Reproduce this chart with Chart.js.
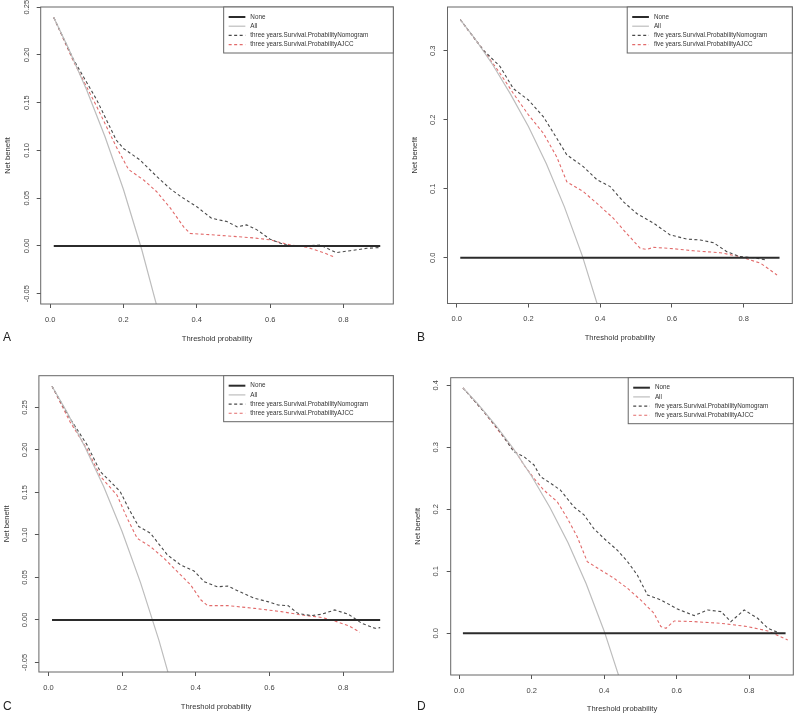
<!DOCTYPE html>
<html>
<head>
<meta charset="utf-8">
<script src="https://cdn.jsdelivr.net/npm/chart.js@4/dist/chart.umd.min.js"></script>
<style>
  body { margin: 0; background: #fff; width: 800px; height: 717px; position: relative; overflow: hidden;
         font-family: "Liberation Sans", Arial, sans-serif; }
  canvas { position: absolute; }
  .tag { position: absolute; font-size: 12px; line-height: 12px; color: #222; }
</style>
</head>
<body>
<canvas id="pa" width="400" height="358" style="left:0;top:0"></canvas>
<canvas id="pb" width="400" height="358" style="left:400px;top:0"></canvas>
<canvas id="pc" width="400" height="359" style="left:0;top:358px"></canvas>
<canvas id="pd" width="400" height="359" style="left:400px;top:358px"></canvas>
<div class="tag" style="left:3px;top:331px">A</div>
<div class="tag" style="left:417px;top:331px">B</div>
<div class="tag" style="left:3px;top:700px">C</div>
<div class="tag" style="left:417px;top:700px">D</div>
<script>
// legend labels
const threeLabels = ['None', 'All', 'three years.Survival.ProbabilityNomogram', 'three years.Survival.ProbabilityAJCC'];
const fiveLabels = ['None', 'All', 'five years.Survival.ProbabilityNomogram', 'five years.Survival.ProbabilityAJCC'];

// [threshold, net benefit]
const noneLine = [[0.01, 0], [0.9, 0]];

const aAll = [[0.01, 0.239], [0.05, 0.207], [0.10, 0.163], [0.15, 0.114], [0.20, 0.059], [0.25, -0.004], [0.30, -0.076]];
const aNomogram = [[0.01, 0.239], [0.064, 0.195], [0.127, 0.153], [0.18, 0.111], [0.2, 0.102], [0.245, 0.09], [0.29, 0.073],
  [0.327, 0.06], [0.355, 0.052], [0.4, 0.041], [0.44, 0.029], [0.482, 0.0255], [0.51, 0.02], [0.536, 0.022], [0.564, 0.0168],
  [0.6, 0.007], [0.636, 0.0017], [0.664, -0.0007], [0.7, 0], [0.736, 0.001], [0.78, -0.007], [0.818, -0.005], [0.864, -0.0025], [0.9, -0.0017]];
const aAJCC = [[0.01, 0.239], [0.064, 0.193], [0.127, 0.146], [0.18, 0.104], [0.214, 0.08], [0.255, 0.069], [0.29, 0.057],
  [0.327, 0.04], [0.364, 0.02], [0.382, 0.013], [0.427, 0.012], [0.482, 0.0105], [0.555, 0.0084], [0.6, 0.0063], [0.655, 0.001],
  [0.7, -0.0014], [0.745, -0.007], [0.777, -0.012]];

const bAll = [[0.01, 0.345], [0.05, 0.318], [0.10, 0.280], [0.15, 0.237], [0.20, 0.190], [0.25, 0.136], [0.30, 0.074], [0.35, 0.003], [0.40, -0.081]];
const bNomogram = [[0.01, 0.345], [0.074, 0.301], [0.121, 0.277], [0.158, 0.245], [0.2, 0.2285], [0.242, 0.204], [0.279, 0.173],
  [0.307, 0.149], [0.353, 0.132], [0.391, 0.113], [0.428, 0.103], [0.465, 0.081], [0.502, 0.064], [0.549, 0.05], [0.595, 0.033],
  [0.642, 0.027], [0.679, 0.0256], [0.716, 0.0217], [0.753, 0.0087], [0.79, 0.0015], [0.828, 0], [0.865, -0.0034]];
const bAJCC = [[0.01, 0.345], [0.074, 0.301], [0.121, 0.267], [0.158, 0.238], [0.2, 0.207], [0.242, 0.18], [0.279, 0.146],
  [0.307, 0.11], [0.353, 0.0957], [0.391, 0.0787], [0.437, 0.057], [0.474, 0.035], [0.512, 0.0135], [0.53, 0.012], [0.549, 0.015],
  [0.605, 0.013], [0.66, 0.01], [0.735, 0.0072], [0.79, 0.0015], [0.847, -0.008], [0.893, -0.025]];

const cAll = [[0.01, 0.275], [0.05, 0.245], [0.10, 0.203], [0.15, 0.157], [0.20, 0.104], [0.25, 0.044], [0.30, -0.024], [0.33, -0.070]];
const cNomogram = [[0.01, 0.275], [0.059, 0.237], [0.105, 0.206], [0.141, 0.1745], [0.168, 0.163], [0.195, 0.151], [0.218, 0.131],
  [0.245, 0.11], [0.277, 0.102], [0.295, 0.092], [0.323, 0.0765], [0.359, 0.0647], [0.395, 0.0576], [0.423, 0.045], [0.459, 0.039],
  [0.486, 0.04], [0.523, 0.0325], [0.559, 0.0255], [0.595, 0.0216], [0.623, 0.0176], [0.65, 0.0169], [0.677, 0.0078], [0.714, 0.0051],
  [0.741, 0.0067], [0.777, 0.0118], [0.814, 0.0067], [0.85, -0.0039], [0.886, -0.0098], [0.9, -0.009]];
const cAJCC = [[0.01, 0.275], [0.059, 0.233], [0.105, 0.201], [0.141, 0.169], [0.186, 0.147], [0.214, 0.1196], [0.241, 0.096],
  [0.277, 0.0863], [0.314, 0.0725], [0.35, 0.0569], [0.386, 0.0412], [0.414, 0.0235], [0.432, 0.0169], [0.486, 0.0169], [0.559, 0.0137],
  [0.632, 0.0098], [0.686, 0.0059], [0.741, 0.003], [0.777, -0.0012], [0.814, -0.0067], [0.845, -0.0145]];

const dAll = [[0.01, 0.396], [0.05, 0.371], [0.10, 0.336], [0.15, 0.297], [0.20, 0.253], [0.25, 0.203], [0.30, 0.146], [0.35, 0.080], [0.40, 0.003], [0.45, -0.087]];
const dNomogram = [[0.01, 0.396], [0.067, 0.358], [0.113, 0.325], [0.15, 0.293], [0.178, 0.285], [0.206, 0.2715], [0.224, 0.2527],
  [0.252, 0.242], [0.279, 0.231], [0.316, 0.204], [0.344, 0.191], [0.371, 0.169], [0.399, 0.153], [0.436, 0.134], [0.464, 0.1156],
  [0.491, 0.094], [0.519, 0.0618], [0.556, 0.0538], [0.602, 0.039], [0.648, 0.0285], [0.685, 0.0376], [0.722, 0.035], [0.749, 0.0188],
  [0.786, 0.0376], [0.823, 0.0242], [0.851, 0.0081], [0.878, 0.0016]];
const dAJCC = [[0.01, 0.396], [0.067, 0.358], [0.113, 0.323], [0.159, 0.29], [0.178, 0.2715], [0.206, 0.25], [0.233, 0.231],
  [0.27, 0.2124], [0.298, 0.1855], [0.325, 0.156], [0.353, 0.1156], [0.39, 0.102], [0.427, 0.0887], [0.464, 0.0726], [0.5, 0.0538],
  [0.537, 0.0323], [0.556, 0.0108], [0.57, 0.0081], [0.593, 0.0199], [0.648, 0.0188], [0.722, 0.0161], [0.795, 0.0108], [0.851, 0.0038],
  [0.906, -0.0108]];

const FONT = '"Liberation Sans", Arial, sans-serif';

const panels = [
  { id: 'pa', h: 358, labels: threeLabels, series: [noneLine, aAll, aNomogram, aAJCC],
    box: { l: 40.7, r: 393.3, t: 7, b: 304 }, xr: [-0.0256, 0.9356], yr: [-0.0608, 0.2501], yStep: 0.05, yDec: 2,
    yPad: 1.5, yTitlePad: 3.6, xTitlePad: 14.4 },
  { id: 'pb', h: 358, labels: fiveLabels, series: [noneLine, bAll, bNomogram, bAJCC],
    box: { l: 47.5, r: 392.3, t: 7, b: 303.5 }, xr: [-0.0256, 0.9356], yr: [-0.0664, 0.3633], yStep: 0.1, yDec: 1,
    yPad: 5, yTitlePad: 10.7, xTitlePad: 15.7 },
  { id: 'pc', h: 359, labels: threeLabels, series: [noneLine, cAll, cNomogram, cAJCC],
    box: { l: 38.9, r: 393.3, t: 17.7, b: 314 }, xr: [-0.0256, 0.9356], yr: [-0.0612, 0.2874], yStep: 0.05, yDec: 2,
    yPad: 1, yTitlePad: 2.4, xTitlePad: 5.1 },
  { id: 'pd', h: 359, labels: fiveLabels, series: [noneLine, dAll, dNomogram, dAJCC],
    box: { l: 50.7, r: 393.3, t: 19.7, b: 317 }, xr: [-0.0237, 0.9213], yr: [-0.0673, 0.4123], yStep: 0.1, yDec: 1,
    yPad: 5.7, yTitlePad: 13.7, xTitlePad: 3.1 }
];

const lineStyles = [
  { borderColor: '#2b2b2b', borderWidth: 2, borderDash: [] },
  { borderColor: '#bdbdbd', borderWidth: 1.2, borderDash: [] },
  { borderColor: '#4a4a4a', borderWidth: 1.1, borderDash: [3, 2.5] },
  { borderColor: '#e26b6b', borderWidth: 1.1, borderDash: [3, 2.5] }
];

// box round the plot region
const frame = {
  id: 'frame',
  afterDatasetsDraw(chart) {
    const { ctx, chartArea: a } = chart;
    ctx.save();
    ctx.strokeStyle = '#666';
    ctx.lineWidth = 1;
    ctx.strokeRect(a.left, a.top, a.right - a.left, a.bottom - a.top);
    ctx.restore();
  }
};

// R-style boxed legend in the top right corner
const boxLegend = {
  id: 'boxLegend',
  afterDraw(chart) {
    const { ctx, chartArea } = chart;
    const sets = chart.data.datasets;
    ctx.save();
    ctx.font = '6.3px ' + FONT;
    let tw = 0;
    sets.forEach(d => { tw = Math.max(tw, ctx.measureText(d.label).width); });
    const w = 26.7 + tw + 25, h = 46;
    const x0 = chartArea.right - w, y0 = chartArea.top;
    ctx.fillStyle = '#fff';
    ctx.fillRect(x0, y0, w, h);
    ctx.strokeStyle = '#666';
    ctx.lineWidth = 1;
    ctx.strokeRect(x0, y0, w, h);
    sets.forEach((d, i) => {
      const y = y0 + 10 + 9.2 * i;
      ctx.strokeStyle = d.borderColor;
      ctx.lineWidth = d.borderWidth;
      ctx.setLineDash(d.borderDash);
      ctx.beginPath();
      ctx.moveTo(x0 + 5, y);
      ctx.lineTo(x0 + 21.7, y);
      ctx.stroke();
      ctx.setLineDash([]);
      ctx.fillStyle = '#333';
      ctx.textBaseline = 'middle';
      ctx.fillText(d.label, x0 + 26.7, y);
    });
    ctx.restore();
  }
};

panels.forEach(p => {
  const W = 400;
  new Chart(document.getElementById(p.id), {
    type: 'line',
    data: {
      datasets: p.series.map((s, i) => Object.assign({
        label: p.labels[i],
        data: s.map(([x, y]) => ({ x, y })),
        pointRadius: 0,
        tension: 0,
        fill: false
      }, lineStyles[i]))
    },
    options: {
      responsive: false,
      animation: false,
      layout: { padding: { left: 0, top: p.box.t, right: W - p.box.r, bottom: 0 }, autoPadding: false },
      plugins: { legend: { display: false }, tooltip: { enabled: false } },
      scales: {
        x: {
          type: 'linear', min: p.xr[0], max: p.xr[1],
          afterFit: s => { s.height = p.h - p.box.b; s.paddingLeft = 0; s.paddingRight = 0; },
          ticks: { stepSize: 0.2, includeBounds: false, autoSkip: false, maxRotation: 0,
                   callback: v => v.toFixed(1), font: { family: FONT, size: 7.5 }, color: '#444', padding: 7 },
          grid: { drawOnChartArea: false, tickLength: 4, color: '#555' },
          border: { display: false },
          title: { display: true, text: 'Threshold probability', color: '#333',
                   font: { family: FONT, size: 7.6 }, padding: { top: 0, bottom: p.xTitlePad } }
        },
        y: {
          type: 'linear', min: p.yr[0], max: p.yr[1],
          afterFit: s => { s.width = p.box.l; s.paddingTop = 0; s.paddingBottom = 0; },
          ticks: { stepSize: p.yStep, includeBounds: false, autoSkip: false, minRotation: 90, maxRotation: 90,
                   crossAlign: 'center', callback: v => v.toFixed(p.yDec), font: { family: FONT, size: 7.5 },
                   color: '#444', padding: p.yPad },
          grid: { drawOnChartArea: false, tickLength: 4, color: '#555' },
          border: { display: false },
          title: { display: true, text: 'Net benefit', color: '#333',
                   font: { family: FONT, size: 7.6 }, padding: { top: p.yTitlePad, bottom: 0 } }
        }
      }
    },
    plugins: [frame, boxLegend]
  });
});
</script>
</body>
</html>
